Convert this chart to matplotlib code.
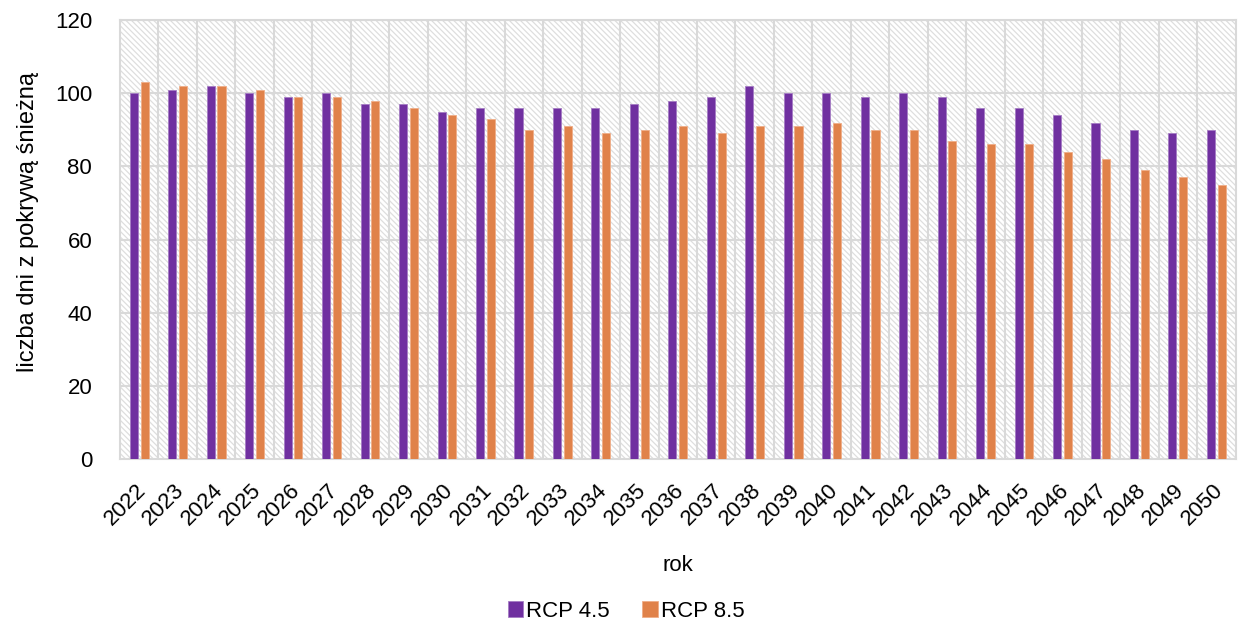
import matplotlib
matplotlib.use("Agg")
import matplotlib.pyplot as plt
import matplotlib.transforms as mtransforms
import numpy as np

years = [str(y) for y in range(2022, 2051)]
rcp45 = [100, 101, 102, 100, 99, 100, 97, 97, 95, 96, 96, 96, 96, 97, 98, 99, 102,
         100, 100, 99, 100, 99, 96, 96, 94, 92, 90, 89, 90]
rcp85 = [103, 102, 102, 101, 99, 99, 98, 96, 94, 93, 90, 91, 89, 90, 91, 89, 91,
         91, 92, 90, 90, 87, 86, 86, 84, 82, 79, 77, 75]
series_names = ["RCP 4.5", "RCP 8.5"]
colors = ["#7030A0", "#E0824A"]

plt.rcParams['font.family'] = ['Liberation Sans', 'DejaVu Sans']
plt.rcParams['hatch.color'] = '#DEDEDE'
plt.rcParams['hatch.linewidth'] = 0.9

fig = plt.figure(figsize=(12.38, 6.28), dpi=100)
ax = fig.add_axes([0.0969, 0.269, 0.9011, 0.699])

x = np.arange(len(years))
ax.set_xlim(-0.5, len(years) - 0.5)
ax.set_ylim(0, 120)

# hatched background
ax.add_patch(plt.Rectangle((-0.5, 0), len(years), 120, facecolor='white',
                           edgecolor='#DEDEDE', hatch='\\' * 6, linewidth=0, zorder=0))

w = 0.21
off = 0.14
ax.bar(x - off, rcp45, width=w, color=colors[0], edgecolor='#A57CC4', linewidth=0.6,
       label=series_names[0], zorder=3)
ax.bar(x + off, rcp85, width=w, color=colors[1], edgecolor='#F0AE88', linewidth=0.6,
       label=series_names[1], zorder=3)

ax.set_yticks(range(0, 121, 20))
ax.set_xticks(x)
ax.set_xticklabels(years, rotation=45, ha='right', rotation_mode='anchor', fontsize=16)
ax.tick_params(axis='y', labelsize=16, length=0, pad=20)
ax.tick_params(axis='x', length=0, pad=15)
shift = mtransforms.ScaledTranslation(-4 / 100, 0, fig.dpi_scale_trans)
for lbl in ax.get_xticklabels():
    lbl.set_transform(lbl.get_transform() + shift)

# grid
for v in range(20, 121, 20):
    ax.axhline(v, color='#D9D9D9', linewidth=1.5, zorder=1)
for b in np.arange(0.5, len(years) - 0.5, 1):
    ax.axvline(b, color='#D9D9D9', linewidth=1.5, zorder=1)

for s in ax.spines.values():
    s.set_color('#D9D9D9')
    s.set_linewidth(1.5)

ax.set_ylabel("liczba dni z pokrywą śnieżną", fontsize=17)
ax.yaxis.set_label_coords(-0.0725, 0.54)
ax.set_xlabel("rok", fontsize=16, labelpad=18)

leg = fig.legend(loc='center', bbox_to_anchor=(0.5057, 0.027), ncol=2, frameon=False,
                 fontsize=16, handlelength=0.7, handleheight=0.7, handletextpad=0.14,
                 columnspacing=1.44)

fig.savefig("out.png", dpi=100)
